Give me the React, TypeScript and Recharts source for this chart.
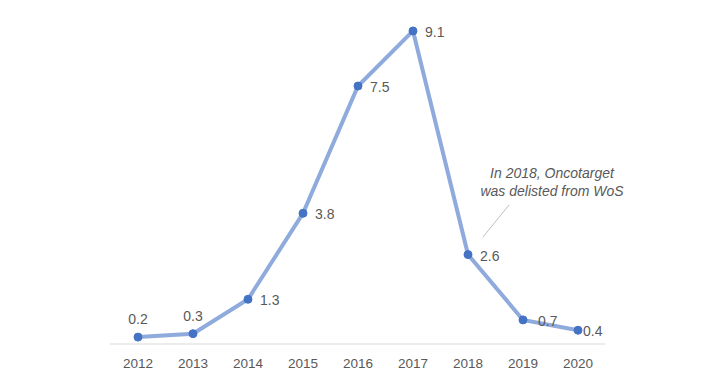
import React from "react";
import { LineChart, Line, XAxis, YAxis, LabelList } from "recharts";

const years = ["2012", "2013", "2014", "2015", "2016", "2017", "2018", "2019", "2020"];
const shares = [0.2, 0.3, 1.3, 3.8, 7.5, 9.1, 2.6, 0.7, 0.4];
// where each value label sits relative to its point
const labelSide = ["top", "top", "right", "right", "right", "right", "right", "right", "right"];

const data = years.map((year, i) => ({ year, value: shares[i] }));

const FONT = "'Liberation Sans', Arial, sans-serif";
const GREY = "#595959";

function ValueLabel(props: any) {
  const { x, y, value, index } = props;
  if (labelSide[index] === "top") {
    return (
      <text x={x} y={y - 18} textAnchor="middle" dominantBaseline="central" fontSize={14} fill={GREY} fontFamily={FONT}>
        {value.toFixed(1)}
      </text>
    );
  }
  const dx = index === 8 ? 5 : index === 7 ? 15 : 12;
  return (
    <text x={x + dx} y={y + 1} textAnchor="start" dominantBaseline="central" fontSize={14} fill={GREY} fontFamily={FONT}>
      {value.toFixed(1)}
    </text>
  );
}

export default function App() {
  return (
    <div style={{ position: "fixed", left: 0, top: 0, width: 720, height: 374, background: "#fff" }}>
      <LineChart width={720} height={374} data={data} margin={{ top: 0, right: 115, bottom: 0, left: 110 }}>
        <XAxis
          dataKey="year"
          height={30}
          padding={{ left: 28, right: 27 }}
          tickLine={false}
          axisLine={{ stroke: "#d9d9d9" }}
          tickMargin={8}
          tick={{ fontSize: 13.5, fill: GREY, fontFamily: FONT }}
          interval={0}
        />
        <YAxis hide domain={[0, 10]} />
        <Line
          type="linear"
          dataKey="value"
          stroke="#8faadc"
          strokeWidth={4}
          dot={{ r: 4, fill: "#4472c4", stroke: "#4472c4", strokeWidth: 1 }}
          isAnimationActive={false}
        >
          <LabelList dataKey="value" content={ValueLabel} />
        </Line>
      </LineChart>
      <svg width={720} height={374} style={{ position: "absolute", left: 0, top: 0, pointerEvents: "none" }}>
        <text x={552} y={173} textAnchor="middle" dominantBaseline="central" fontSize={14} fontStyle="italic" fill={GREY} fontFamily={FONT}>
          In 2018, Oncotarget
        </text>
        <text x={552} y={191} textAnchor="middle" dominantBaseline="central" fontSize={14} fontStyle="italic" fill={GREY} fontFamily={FONT}>
          was delisted from WoS
        </text>
        <line x1={483} y1={237} x2={509} y2={205} stroke="#bfbfbf" strokeWidth={1} />
      </svg>
    </div>
  );
}
